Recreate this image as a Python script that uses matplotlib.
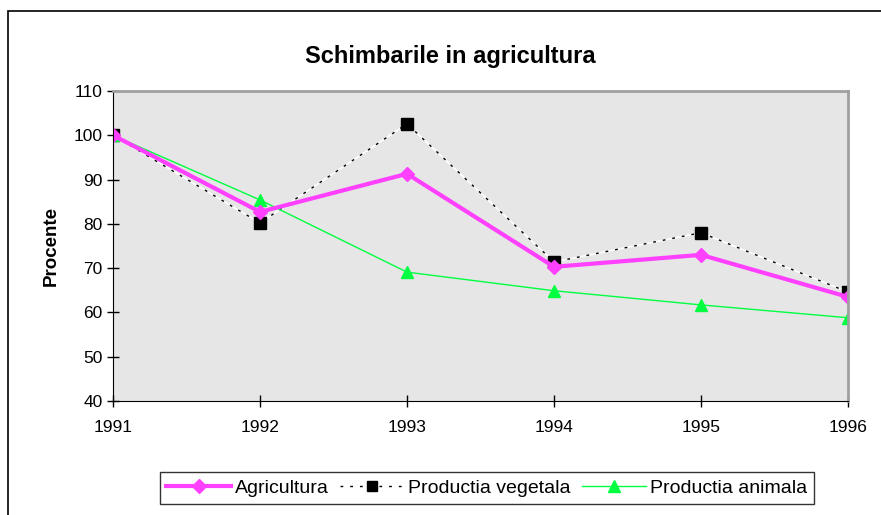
import matplotlib.pyplot as plt
from matplotlib.patches import Rectangle
from matplotlib.lines import Line2D

plt.rcParams['font.family'] = ['Liberation Sans', 'DejaVu Sans']

years = [1991, 1992, 1993, 1994, 1995, 1996]
agricultura = [100, 82.7, 91.3, 70.3, 73.0, 63.5]
vegetala = [100, 80.2, 102.6, 71.4, 78.0, 64.6]
animala = [100, 85.4, 69.1, 64.9, 61.7, 58.8]
yticks = [40, 50, 60, 70, 80, 90, 100, 110]

W, H = 881, 515
fig = plt.figure(figsize=(W / 100, H / 100), dpi=100)
ax = fig.add_axes([113 / W, 1 - 401 / H, (848 - 113) / W, (401 - 91) / H])
ax.set_facecolor('#e6e6e6')

# outer chart border
fig.patches.append(Rectangle((8 / W, -0.05), 1.1, 1 - 11 / H + 0.05,
                             transform=fig.transFigure, fill=False,
                             edgecolor='black', linewidth=1.2))

ax.plot(years, agricultura, color='#ff40ff', linewidth=3, marker='D',
        markersize=7, zorder=4)
ax.plot(years, vegetala, color='white', linewidth=1.2, zorder=2)
ax.plot(years, vegetala, color='black', linewidth=1, linestyle=(0, (2, 5)),
        marker='s', markersize=8, zorder=3)
ax.plot(years, animala, color='#00ff40', linewidth=1, marker='^',
        markersize=9, zorder=3)

ax.set_xlim(1991, 1996)
ax.set_ylim(40, 110)
ax.set_yticks(yticks)
ax.set_xticks(years)
ax.tick_params(axis='both', direction='inout', length=8, labelsize=12.5,
               width=1)
ax.tick_params(axis='x', pad=10)
ax.spines['left'].set_color('black')
ax.spines['bottom'].set_color('black')
ax.spines['top'].set_color('#a0a0a0')
ax.spines['right'].set_color('#a0a0a0')
ax.spines['top'].set_linewidth(2)
ax.spines['right'].set_linewidth(2)
for s in ax.spines.values():
    s.set_zorder(5)

ax.set_ylabel('Procente', fontsize=13.5, fontweight='bold', labelpad=10)
fig.text(450 / W, 1 - 56 / H, 'Schimbarile in agricultura', ha='center',
         va='center', fontsize=17, fontweight='bold')

handles = [
    Line2D([], [], color='#ff40ff', linewidth=3, marker='D', markersize=7),
    Line2D([], [], color='black', linewidth=1, linestyle=(0, (2, 5)),
           marker='s', markersize=7),
    Line2D([], [], color='#00ff40', linewidth=1, marker='^', markersize=8),
]
leg = fig.legend(handles, ['Agricultura', 'Productia vegetala', 'Productia animala'],
                 loc='center', bbox_to_anchor=(487 / W, 1 - 488 / H), ncol=3,
                 frameon=True, fancybox=False, fontsize=14, handlelength=3.3,
                 handletextpad=0.2, columnspacing=0.6, borderpad=0.35)
leg.get_frame().set_edgecolor('black')
leg.get_frame().set_linewidth(1)

fig.savefig('out.png', dpi=100)
